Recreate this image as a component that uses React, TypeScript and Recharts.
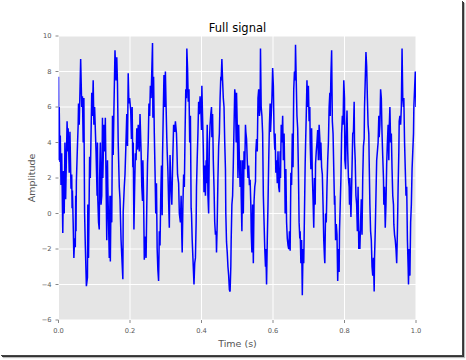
import { LineChart, Line, XAxis, YAxis, CartesianGrid } from 'recharts';

// sample times (s)
const time = [
  0.000, 0.001, 0.002, 0.004, 0.005, 0.007, 0.009, 0.012, 0.014, 0.016,
  0.018, 0.020, 0.024, 0.026, 0.027, 0.030, 0.032, 0.035, 0.037, 0.038,
  0.039, 0.041, 0.043, 0.045, 0.047, 0.048, 0.049, 0.050, 0.053, 0.055,
  0.056, 0.058, 0.062, 0.065, 0.067, 0.069, 0.071, 0.073, 0.075, 0.078,
  0.081, 0.082, 0.084, 0.087, 0.089, 0.093, 0.095, 0.097, 0.099, 0.101,
  0.105, 0.108, 0.109, 0.110, 0.112, 0.114, 0.115, 0.117, 0.119, 0.121,
  0.123, 0.124, 0.127, 0.129, 0.131, 0.135, 0.137, 0.138, 0.142,
  0.144, 0.145, 0.147, 0.149, 0.151, 0.153, 0.155, 0.158, 0.161, 0.163,
  0.165, 0.167, 0.170, 0.172, 0.175, 0.180, 0.181, 0.184, 0.186, 0.188,
  0.191, 0.193, 0.195, 0.197, 0.199, 0.202, 0.204, 0.206, 0.208, 0.209,
  0.211, 0.213, 0.215, 0.217, 0.219, 0.221, 0.223, 0.226, 0.228, 0.231,
  0.233, 0.235, 0.236, 0.238, 0.240, 0.243, 0.245, 0.247, 0.249, 0.251,
  0.253, 0.255, 0.257, 0.259, 0.263, 0.264, 0.266, 0.268, 0.270, 0.272,
  0.274, 0.276, 0.278, 0.280, 0.282, 0.284, 0.286, 0.288, 0.290, 0.291,
  0.293, 0.295, 0.297, 0.299, 0.301, 0.303, 0.304, 0.306, 0.308, 0.310,
  0.312, 0.314, 0.317, 0.319, 0.322, 0.325, 0.327, 0.330, 0.331, 0.333,
  0.336, 0.338, 0.341, 0.343, 0.345, 0.346, 0.348, 0.350, 0.352, 0.354,
  0.356, 0.358, 0.359, 0.361, 0.363, 0.365, 0.367, 0.369, 0.371, 0.372,
  0.374, 0.376, 0.379, 0.381, 0.383, 0.385, 0.386, 0.388, 0.390, 0.392,
  0.394, 0.396, 0.398, 0.400, 0.401, 0.405, 0.407, 0.409, 0.411, 0.413,
  0.414, 0.416, 0.418, 0.420, 0.422, 0.424, 0.426, 0.428, 0.429, 0.431,
  0.433, 0.435, 0.437, 0.439, 0.441, 0.442, 0.444, 0.446, 0.448, 0.450,
  0.452, 0.454, 0.455, 0.457, 0.459, 0.461, 0.463, 0.465, 0.467, 0.468,
  0.470, 0.472, 0.474, 0.476, 0.478,
  0.480, 0.482, 0.483, 0.485, 0.487, 0.489, 0.493, 0.495, 0.497, 0.498,
  0.500, 0.502, 0.504, 0.506, 0.508, 0.510, 0.511, 0.513, 0.515, 0.517,
  0.519, 0.521, 0.523, 0.524, 0.526, 0.528, 0.530, 0.532, 0.534, 0.536,
  0.538, 0.539, 0.541, 0.543, 0.545, 0.547, 0.549, 0.551, 0.552, 0.554,
  0.556, 0.558, 0.560, 0.562, 0.564, 0.565, 0.567, 0.569, 0.571, 0.573,
  0.575, 0.577, 0.579, 0.580, 0.582, 0.584, 0.586, 0.588, 0.590, 0.592,
  0.593, 0.595, 0.597, 0.599, 0.601, 0.603, 0.605, 0.606, 0.608, 0.610,
  0.612, 0.614, 0.616, 0.618, 0.620, 0.621, 0.623, 0.625, 0.627, 0.629,
  0.631, 0.633, 0.634, 0.636, 0.638, 0.640, 0.642, 0.644, 0.646,
  0.648, 0.650, 0.652, 0.654, 0.656, 0.658, 0.660, 0.662, 0.663, 0.665,
  0.667, 0.669, 0.671, 0.673, 0.675, 0.676, 0.678, 0.680, 0.682, 0.684,
  0.686, 0.688, 0.690, 0.691, 0.693, 0.695, 0.697, 0.699, 0.701, 0.703,
  0.704, 0.706, 0.708, 0.710, 0.712, 0.714, 0.716, 0.718, 0.719, 0.721,
  0.723, 0.725, 0.727, 0.729, 0.731, 0.732, 0.734, 0.736, 0.738, 0.740,
  0.742, 0.744, 0.745, 0.747, 0.749, 0.751, 0.753, 0.755, 0.757, 0.759,
  0.760, 0.762, 0.764, 0.766, 0.768, 0.770, 0.772, 0.773, 0.775, 0.777,
  0.779, 0.781, 0.783, 0.785, 0.786, 0.788, 0.790, 0.792, 0.794, 0.796,
  0.798, 0.800, 0.801, 0.803, 0.805, 0.807, 0.809, 0.811, 0.813, 0.814,
  0.815, 0.818, 0.820, 0.823, 0.825, 0.827, 0.828, 0.830, 0.832, 0.834,
  0.836, 0.838, 0.840, 0.842, 0.843, 0.845, 0.847, 0.849, 0.851, 0.853,
  0.855, 0.856, 0.858, 0.860, 0.862, 0.864, 0.866, 0.868, 0.869, 0.871,
  0.873, 0.875, 0.877, 0.879, 0.881, 0.883, 0.884, 0.886, 0.888, 0.890,
  0.892, 0.894, 0.896, 0.897, 0.899, 0.901, 0.903, 0.905, 0.907, 0.909,
  0.910, 0.912, 0.914, 0.916, 0.918, 0.920, 0.922, 0.924, 0.925, 0.927,
  0.929, 0.931, 0.933, 0.935, 0.937, 0.938, 0.940, 0.942, 0.944, 0.946,
  0.948, 0.950, 0.952, 0.953, 0.955, 0.957, 0.959, 0.961, 0.963, 0.965,
  0.966, 0.968, 0.970, 0.972, 0.974, 0.976, 0.978, 0.979, 0.981, 0.983,
  0.985, 0.987, 0.989, 0.991, 0.993, 0.994, 0.996, 0.998, 1.000,
];

const amplitude = [
  7.7, 3.0, 6.0, 2.9, 4.4, 1.6, 3.4, -1.1, 2.4, 0.0,
  4.0, 0.8, 5.2, 3.5, 4.8, 2.3, 4.6, 1.4, 2.2, 0.3,
  1.3, -0.5, -2.5, -1.4, -1.9, 1.0, -1.0, 1.8, 3.8, 5.0,
  6.2, 5.0, 8.7, 6.0, 6.6, 4.0, 6.5, 0.0, -1.8, -4.1,
  -3.6, 0.5, -2.5, 3.2, 2.0, 6.8, 5.5, 7.5, 5.0, 6.0,
  3.5, 1.0, 4.0, 0.8, -0.5, -0.9, 2.0, 4.0, 0.5, 1.0,
  5.4, 2.0, 5.0, 3.5, 5.4, -1.5, 3.0, 1.5, -2.5,
  1.0, -2.7, 1.0, -0.5, 5.5, 3.3, 5.8, 9.2, 7.5, 8.8,
  7.3, 4.0, 1.5, 0.8, -1.5, -3.7, 0.1, 1.5, 2.2, 3.5,
  5.6, 3.8, 7.9, 6.2, 6.5, 5.8, 4.2, 6.0, 2.6, 4.0,
  -0.9, 1.5, 3.4, 3.0, 4.8, 3.6, 5.0, 3.5, 5.6, 3.5,
  1.5, 0.7, 3.0, 1.0, -2.6, -1.3, -2.5, 0.5, 2.8, 4.0,
  6.2, 5.5, 7.2, 6.5, 9.6, 5.4, 7.7, 4.5, 2.4, 0.0,
  1.7, -2.0, -3.2, -3.8, -1.0, -1.8, 1.0, 2.7, -0.1, 3.2,
  5.6, 7.8, 6.0, 8.0, 6.0, 4.2, 3.5, 2.4, 0.7, -0.8,
  3.3, 1.8, 0.5, 2.5, 5.0, 4.6, 5.2, 4.5, 3.8, 2.2,
  1.7, 0.0, -0.5, 1.0, -1.4, -2.2, 0.5, 2.2, 1.5, 4.5,
  7.0, 6.5, 9.3, 8.2, 6.3, 7.0, 4.0, 5.5, 0.3, 0.0,
  -1.5, -2.5, -4.0, -2.8, -2.5, -0.5, 1.5, 3.1, 4.5, 6.3,
  5.6, 6.6, 6.0, 4.7, 7.2, 3.7, 1.2, 2.7, 1.0, 3.0,
  1.7, 5.0, 1.0, 0.0, 4.0, 5.0, 5.6, 6.0, 4.3, 5.6,
  3.0, 1.5, -0.5, -1.2, -1.0, -2.2, -0.5, 2.0, 3.8, 4.5,
  6.5, 7.7, 7.5, 8.7, 7.5, 6.5, 6.0, 4.0, 2.5, 0.0,
  -1.6, -2.2, -3.0, -3.5, -4.3,
  -4.4, -3.0, -1.5, 0.5, 1.0, 2.8, 7.0, 6.5, 4.0, 6.8,
  5.0, 2.0, 5.0, 3.0, 1.5, 3.0, 1.0, -1.0, 3.0, 0.0,
  3.5, 2.5, 5.0, 4.6, 4.2, 3.0, 2.0, 2.7, 1.6, 1.9,
  0.5, -1.0, -2.2, 0.5, -2.8, 0.7, 1.5, 1.8, 3.5, 4.2,
  3.5, 6.5, 7.0, 5.5, 6.0, 9.3, 6.0, 5.5, 4.5, 1.0,
  -0.5, -2.0, -3.0, -2.0, -4.0, -1.5, 0.5, 3.0, 5.0, 6.2,
  4.6, 5.5, 6.5, 8.2, 7.2, 4.5, 3.6, 4.5, 2.3, 3.0,
  1.7, 3.5, 1.5, 1.2, 3.5, 2.0, 5.0, 4.0, 5.5, 3.0,
  4.5, 2.0, 0.0, 2.5, -0.5, -1.4, -1.8, -2.0, -1.0,
  -2.1, 2.3, 1.6, 4.5, 2.6, 7.0, 8.0, 7.5, 9.5, 7.5,
  5.5, 4.8, 2.5, -0.5, -1.4, -1.0, -2.8, -1.5, -4.6, -2.0,
  -2.8, 0.0, 2.8, 3.8, 5.5, 7.5, 6.0, 7.2, 5.2, 6.0,
  4.0, 2.5, 4.8, 2.2, 0.8, -0.8, 2.0, 0.5, 2.8, 3.5,
  4.0, 4.7, 3.0, 5.0, 4.2, 3.0, 4.0, 2.6, 2.2, 0.5,
  -1.5, -2.5, -2.8, 0.0, -0.5, 1.5, 3.0, 4.0, 6.0, 6.8,
  5.5, 7.8, 9.2, 5.2, 4.5, 2.5, 0.5, 1.0, -1.5, -0.6,
  -1.2, -3.8, -2.0, -3.3, -1.0, 0.5, 2.0, 4.5, 5.5, 5.0,
  7.5, 6.5, 3.0, 2.5, 4.5, 5.8, 3.5, 2.0, 1.5, 0.5,
  2.0, -0.2, 1.5, 4.5, 4.6, 6.3, 4.0, 3.0, 1.0, 0.5,
  -1.0, 1.5, -2.0, -1.0, -2.0, -0.5, 0.8, -1.2, 2.0, 3.8,
  4.2, 6.0, 7.5, 9.1, 8.3, 6.5, 5.0, 4.5, 3.0, 0.5,
  -1.0, -1.5, -3.0, -3.5, -2.5, -4.4, -2.5, -1.0, 1.0, 3.0,
  3.5, 4.0, 5.5, 4.3, 5.0, 7.0, 6.5, 4.5, 3.2, 2.0,
  0.5, 1.5, -0.8, 0.5, 2.8, 4.0, 5.0, 3.0, 4.8, 6.0,
  4.0, 4.5, 2.5, 1.0, 0.5, -0.6, -1.2, -1.5, -2.0, -2.8,
  -1.0, 1.5, 3.5, 5.2, 5.5, 5.0, 6.0, 9.3, 6.5, 6.0,
  6.5, 4.0, 2.5, 1.0, 1.5, -1.5, -3.0, -4.0, -2.0, -3.5,
  -0.5, 0.5, 2.5, 3.5, 4.5, 6.0, 7.0, 8.0, 6.0,
];

const xTicks = [0, 0.2, 0.4, 0.6, 0.8, 1.0];
const yTicks = [-6, -4, -2, 0, 2, 4, 6, 8, 10];

const data = time.map((t, i) => ({ t, a: amplitude[i] }));

const tickStyle = { fill: '#555555', fontSize: 6.7 };
const fmtY = (v: number) => (v < 0 ? `\u2212${-v}` : `${v}`);

export default function App() {
  return (
    <div style={{ position: 'absolute', left: 0, top: 0, width: 466, height: 360, background: '#fff', fontFamily: 'DejaVu Sans' }}>
      {/* window-ish frame with shadow on right/bottom */}
      <div style={{ position: 'absolute', left: 0, top: 0, width: 462, height: 355, boxShadow: '1px 1px 0 #444, 2px 2px 0 #333, 3px 3px 1px #bbb' }} />
      <div style={{ position: 'absolute', left: 0, top: 0 }}>
        <LineChart width={466} height={360} data={data} margin={{ top: 32, right: 46, bottom: 20, left: 18.5 }}>
          <CartesianGrid fill="#e5e5e5" stroke="#ffffff" strokeWidth={1} />
          <XAxis
            dataKey="t"
            type="number"
            domain={[0, 1]}
            ticks={xTicks}
            tickFormatter={(v: number) => v.toFixed(1)}
            tick={tickStyle}
            tickSize={3}
            tickMargin={5}
            tickLine={{ stroke: '#888' }}
            axisLine={false}
            height={20}
            allowDataOverflow
          />
          <XAxis
            xAxisId="top"
            orientation="top"
            dataKey="t"
            type="number"
            domain={[0, 1]}
            ticks={xTicks}
            tick={false}
            tickSize={3}
            tickLine={{ stroke: '#888' }}
            axisLine={false}
            height={4}
          />
          <YAxis
            type="number"
            domain={[-6, 10]}
            ticks={yTicks}
            tickFormatter={fmtY}
            tick={tickStyle}
            tickSize={3}
            tickMargin={4}
            tickLine={{ stroke: '#888' }}
            axisLine={false}
            width={40}
            allowDataOverflow
          />
          <YAxis
            yAxisId="right"
            orientation="right"
            type="number"
            domain={[-6, 10]}
            ticks={yTicks}
            tick={false}
            tickSize={3}
            tickLine={{ stroke: '#888' }}
            axisLine={false}
            width={4}
          />
          <Line
            type="linear"
            dataKey="a"
            stroke="#0000ff"
            strokeWidth={1.5}
            dot={false}
            isAnimationActive={false}
          />
        </LineChart>
      </div>
      <svg width={466} height={360} style={{ position: 'absolute', left: 0, top: 0, pointerEvents: 'none' }}>
        <text x={237.5} y={31.5} textAnchor="middle" fontSize={11.5} fill="#000">Full signal</text>
        <text x={237.5} y={347} textAnchor="middle" fontSize={9.5} fill="#555555">Time (s)</text>
        <text x={0} y={0} transform="translate(34.5,178) rotate(-90)" textAnchor="middle" fontSize={9.5} fill="#555555">Amplitude</text>
      </svg>
    </div>
  );
}
